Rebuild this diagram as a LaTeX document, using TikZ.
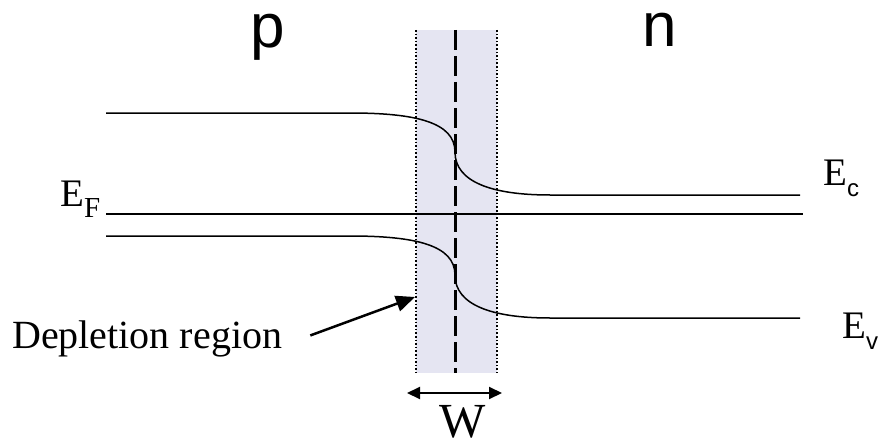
\documentclass[tikz,border=0pt]{standalone}
\usepackage{fontspec}
\setmainfont{Liberation Serif}
\newfontfamily\labsans{Liberation Sans}
\usetikzlibrary{arrows.meta,positioning,calc}
\definecolor{bandfill}{HTML}{E5E5F2}
\newcommand{\Elab}[2]{E\raisebox{-11pt}{\fontsize{#2}{#2}\selectfont #1}}

\begin{document}
\begin{tikzpicture}[
  x=1pt,y=-1pt,
  lbl/.style={inner sep=0pt,anchor=base west,font=\fontsize{39}{44}\selectfont},
  side/.style={inner sep=0pt,anchor=base west,text height=34pt,font=\labsans\fontsize{62}{68}\selectfont},
  level/.style={line width=1.5pt},
  arr/.style={-{Triangle[length=19pt,width=16pt]},line width=2.5pt},
  darr/.style={{Triangle[length=13pt,width=12pt]}-{Triangle[length=13pt,width=12pt]},line width=2pt}
]
\useasboundingbox (0,0) rectangle (881,444);
% depletion band
\fill[bandfill] (416,30) rectangle (497,373);
\draw[line width=1.6pt,dotted] (416,30) -- (416,373);
\draw[line width=1.6pt,dotted] (497,30) -- (497,373);
\draw[line width=3pt,dash pattern=on 20pt off 6pt] (455,30) -- (455,373);
% band levels
\draw[level] (106,113) -- (350,113) .. controls (415,113) and (455,122) .. (455,152)
  .. controls (455,182) and (492,195) .. (550,195) -- (800,195);
\draw[level] (106,214) -- (803,214);
\draw[level] (106,236) -- (350,236) .. controls (415,236) and (455,245) .. (455,275)
  .. controls (455,305) and (492,318) .. (550,318) -- (800,318);
% labels
\node[side] (pside) at (250,48) {p};
\node[side] (nside) at (642,47) {n};
\node[lbl] (EF) at (60,206) {\Elab{F}{29}};
\node[lbl] (Ec) at (823,185) {\Elab{\labsans c}{24}};
\node[lbl] (Ev) at (842,338) {\Elab{\labsans v}{24}};
\node[lbl,font=\fontsize{40}{44}\selectfont] (deplabel) at (12,348) {Depletion region};
\node[lbl,anchor=base,font=\fontsize{49}{54}\selectfont] (Wlabel) at (463,437) {W};
% arrows
\coordinate (bandedge) at (415,297);
\coordinate (wleft) at (407,393);
\coordinate (wright) at (502,393);
\draw[arr] ($(deplabel.east)+(28,-3)$) -- (bandedge);
\draw[darr] (wleft) -- (wright);
\end{tikzpicture}
\end{document}
